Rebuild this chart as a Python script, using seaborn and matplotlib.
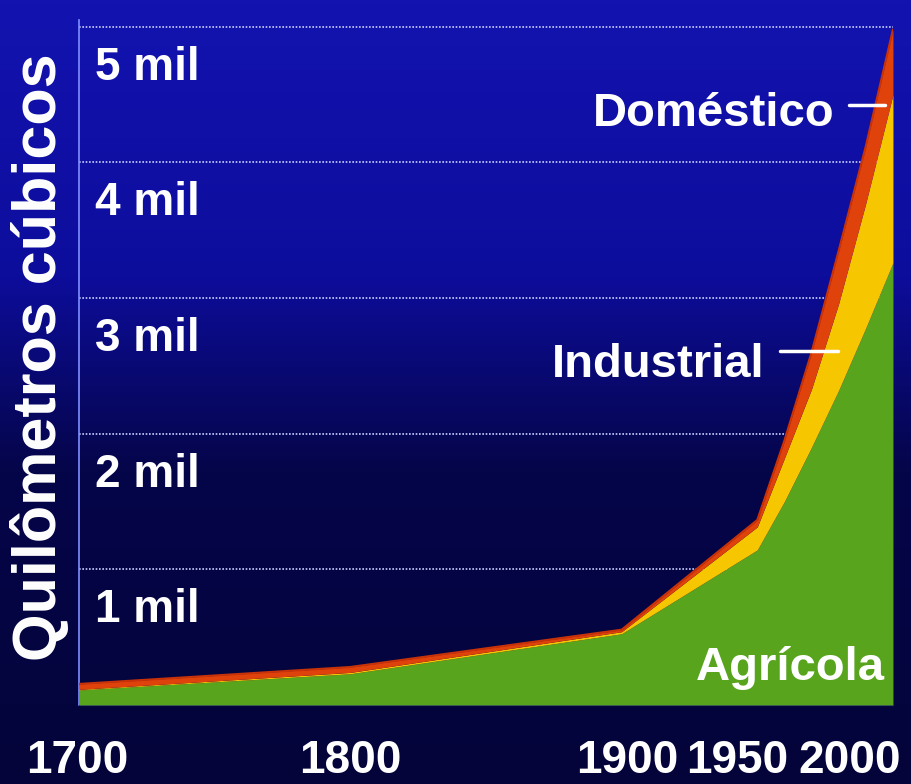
import numpy as np
import pandas as pd
import seaborn as sns
import matplotlib.pyplot as plt
from matplotlib.colors import LinearSegmentedColormap

years = [1700, 1800, 1900, 1950, 1960, 1970, 1980, 1990, 2000]
agricola = [110, 230, 525, 1143, 1500, 1900, 2320, 2780, 3260]
industrial = [5, 10, 15, 170, 320, 430, 640, 920, 1240]
domestico = [40, 40, 15, 51, 130, 270, 390, 420, 480]

x_ticks = [1700, 1800, 1900, 1950, 2000]
y_levels = [1000, 2000, 3000, 4000, 5000]
y_labels = ["1 mil", "2 mil", "3 mil", "4 mil", "5 mil"]

df = pd.DataFrame({"ano": years, "Agrícola": agricola,
                   "Industrial": industrial, "Doméstico": domestico})
df["total"] = df["Agrícola"] + df["Industrial"] + df["Doméstico"]

sns.set_style("dark")
plt.rcParams["font.family"] = ["Liberation Sans", "DejaVu Sans"]
plt.rcParams["font.weight"] = "bold"

fig = plt.figure(figsize=(9.11, 7.84), dpi=100)

# background: bright blue on top, dark navy below
bg = fig.add_axes([0, 0, 1, 1])
cmap = LinearSegmentedColormap.from_list(
    "bg", [(0.0, "#1313b0"), (0.35, "#0d0d9c"), (0.5, "#08086a"),
           (0.6, "#05054a"), (1.0, "#04043a")])
bg.imshow(np.linspace(0, 1, 256).reshape(-1, 1), aspect="auto", cmap=cmap,
          extent=[0, 1, 0, 1])
bg.axis("off")

ax = fig.add_axes([0.0867, 0.1008, 0.8935, 0.8737])
ax.set_facecolor("none")

colors = ["#58a41c", "#f6c600", "#e0420c"]
ax.stackplot(df["ano"], df["Agrícola"], df["Industrial"], df["Doméstico"],
             colors=colors, linewidth=0, zorder=3)
sns.lineplot(x="ano", y="total", data=df, ax=ax, color="#c83208",
             linewidth=1.5, zorder=4)

for v in y_levels:
    ax.axhline(v, color="#c8d0ff", linestyle=(0, (1, 1)), linewidth=1.2,
               zorder=1)

for v, lab in zip(y_levels, y_labels):
    ax.text(1705.9, v - 390, lab, ha="left", va="baseline", color="white",
            fontsize=33, fontweight="bold", zorder=5)

ax.set_xlim(1700, 2000)
ax.set_ylim(0, 5050)
ax.set_xticks(x_ticks)
ax.set_xticklabels([])
# year labels, nudged on the crowded right side like the original
for t, dx in zip(x_ticks, [-2, 0, 6, -20, -43]):
    ax.annotate(str(t), (t, 0), xytext=(dx * 0.72, -49),
                textcoords="offset points", ha="center", va="baseline",
                color="white", fontsize=33, fontweight="bold",
                annotation_clip=False)
ax.set_yticks([])
ax.tick_params(axis="x", length=5, width=1.2, color="#8090ff")
ax.grid(False)
for s in ["top", "right"]:
    ax.spines[s].set_visible(False)
ax.spines["left"].set_color("#7f8fff")
ax.spines["left"].set_linewidth(1.2)
ax.spines["bottom"].set_color("#1a1a80")
ax.set_xlabel("")
ax.set_ylabel("Quilômetros cúbicos", fontsize=44, fontweight="bold",
              color="white")
ax.yaxis.set_label_coords(-0.012, 0.508)

# labels for each use
ax.text(1978.6, 4265, "Doméstico", ha="right", va="baseline", color="white",
        fontsize=34, fontweight="bold", zorder=5)
ax.plot([1983.8, 1997.1], [4425, 4425], color="white", linewidth=2.5, zorder=5)
ax.text(1952.5, 2420, "Industrial", ha="right", va="baseline", color="white",
        fontsize=34, fontweight="bold", zorder=5)
ax.plot([1958.4, 1979.7], [2610, 2610], color="white", linewidth=2.5, zorder=5)
ax.text(1997, 185, "Agrícola", ha="right", va="baseline", color="white",
        fontsize=34, fontweight="bold", zorder=5)

plt.savefig("out.png", dpi=100)
